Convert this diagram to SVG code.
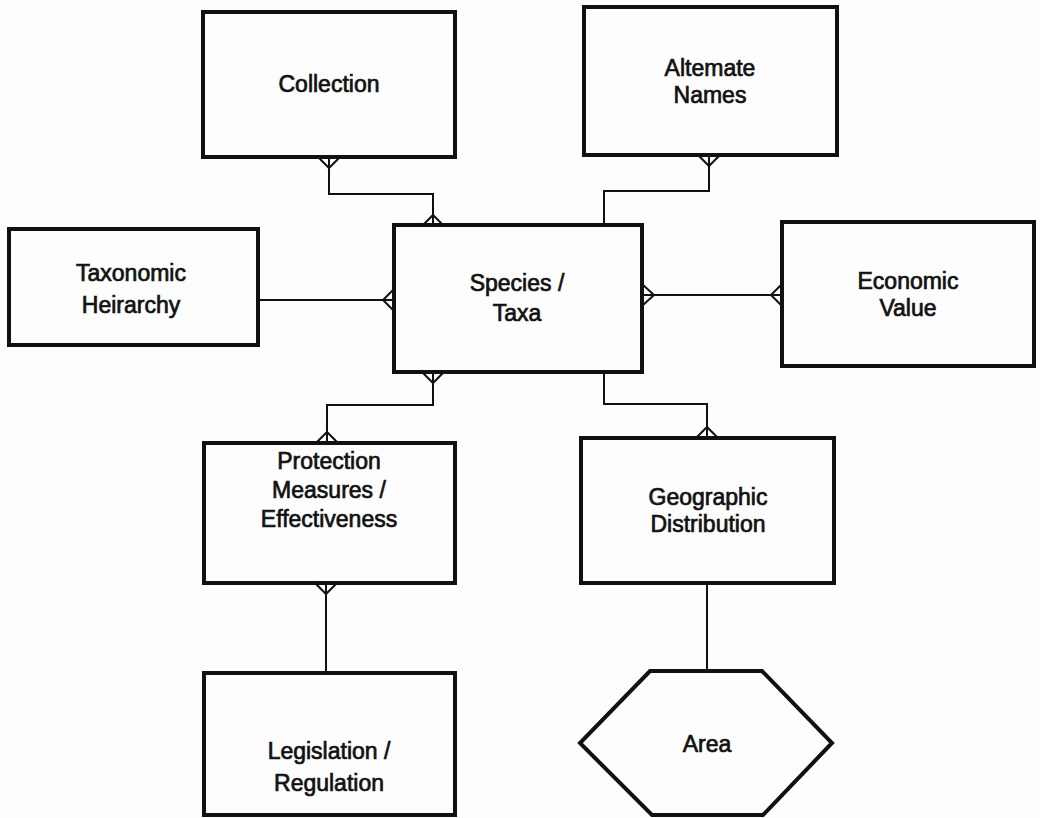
<svg xmlns="http://www.w3.org/2000/svg" width="1040" height="818" viewBox="0 0 1040 818">
<style>
.box{fill:none;stroke:#111;stroke-width:4;stroke-linejoin:miter}
.lbl{font-family:"Liberation Sans",Arial,sans-serif;font-size:23px;fill:#111;stroke:#111;stroke-width:0.7;text-anchor:middle}
.con{fill:none;stroke:#111;stroke-width:2}
</style>
<rect width="1040" height="818" fill="#fdfdfd"/>
<g id="collection"><rect class="box" x="203" y="12" width="252" height="145"/><text class="lbl" x="329" y="92">Collection</text></g>
<g id="alternate-names"><rect class="box" x="584" y="7" width="253" height="148"/><text class="lbl" x="710" y="76">Altemate</text><text class="lbl" x="710" y="103">Names</text></g>
<g id="taxonomic-heirarchy"><rect class="box" x="9" y="229" width="249" height="116"/><text class="lbl" x="131" y="281">Taxonomic</text><text class="lbl" x="131" y="313">Heirarchy</text></g>
<g id="species-taxa"><rect class="box" x="394" y="225" width="248" height="147"/><text class="lbl" x="517" y="291">Species /</text><text class="lbl" x="517" y="321">Taxa</text></g>
<g id="economic-value"><rect class="box" x="782" y="222" width="252" height="144"/><text class="lbl" x="908" y="289">Economic</text><text class="lbl" x="908" y="316">Value</text></g>
<g id="protection"><rect class="box" x="204" y="443" width="251" height="140"/><text class="lbl" x="329" y="469">Protection</text><text class="lbl" x="329" y="498">Measures /</text><text class="lbl" x="329" y="527">Effectiveness</text></g>
<g id="geographic-distribution"><rect class="box" x="581" y="438" width="253" height="145"/><text class="lbl" x="708" y="505">Geographic</text><text class="lbl" x="708" y="532">Distribution</text></g>
<g id="legislation"><rect class="box" x="204" y="673" width="251" height="142"/><text class="lbl" x="329" y="759">Legislation /</text><text class="lbl" x="329" y="791">Regulation</text></g>
<g id="area"><polygon class="box" points="650,671 762,671 832,743 763,815 652,815 580,743"/><text class="lbl" x="707" y="752">Area</text></g>
<g id="connectors">
<path class="con" d="M329,157 V194 H433 V225"/>
<path class="con" d="M318,157 L329,168 L340,157 M423,225 L433,215 L443,225"/>
<path class="con" d="M709,155 V191 H604 V225"/>
<path class="con" d="M698,155 L709,166 L720,155"/>
<path class="con" d="M258,300 H394"/>
<path class="con" d="M394,289 L383,300 L394,311"/>
<path class="con" d="M642,295 H782"/>
<path class="con" d="M642,284 L654,295 L642,306 M782,284 L771,295 L782,306"/>
<path class="con" d="M433,372 V405 H327 V443"/>
<path class="con" d="M422,372 L433,383 L444,372 M316,443 L327,432 L338,443"/>
<path class="con" d="M604,372 V404 H707 V438"/>
<path class="con" d="M696,438 L707,427 L718,438"/>
<path class="con" d="M326,583 V673"/>
<path class="con" d="M315,583 L326,594 L337,583"/>
<path class="con" d="M707,583 V671"/>
</g>
</svg>
